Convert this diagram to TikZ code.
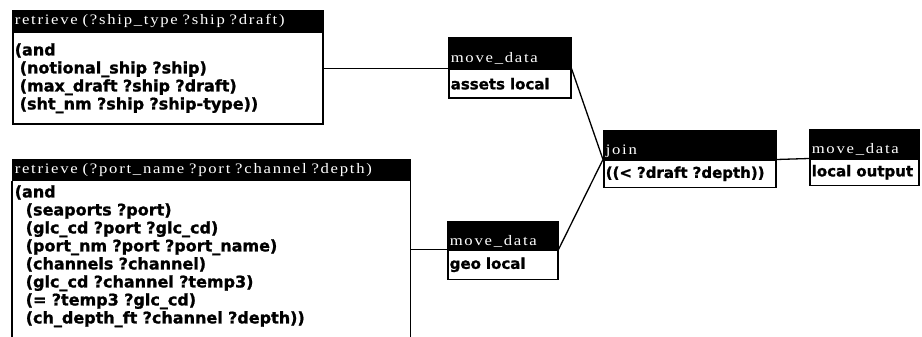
\documentclass[tikz,border=0pt]{standalone}
\usepackage{fontspec}
\newfontfamily\bodyfont{DejaVu Sans}[FakeBold=1.2]
\newfontfamily\titlefont{Liberation Serif}[FakeStretch=1.15,LetterSpace=12,WordSpace=2.2]
\begin{document}
\begin{tikzpicture}[x=1pt,y=-1pt,
  box/.style={draw=black, line width=1.5pt, anchor=north west, inner xsep=2pt, inner ysep=0pt, align=left},
  tbar/.style={box, fill=black, text=white, font=\titlefont\fontsize{14.5}{16}\selectfont},
  tbig/.style={tbar, text height=10pt, text depth=3pt},
  tsmall/.style={tbar, text height=21pt, text depth=1pt},
  bbody/.style={box, fill=white, font=\bodyfont\bfseries\fontsize{16}{18}\selectfont},
  sbody/.style={bbody, font=\bodyfont\bfseries\fontsize{15}{18}\selectfont},
  conn/.style={draw=black, line width=1.3pt}]
\useasboundingbox (0,0) rectangle (922,337);
\fill[white] (0,0) rectangle (922,337);
\clip (0,0) rectangle (922,337);
% box 1
\node[tbig, minimum height=20, text width=306] (t1) at (12,10) {retrieve (?ship\_type ?ship ?draft)};
\node[bbody, minimum height=92, text width=306] (b1) at (t1.south west)
  {(and\\\hspace*{5pt}(notional\_ship ?ship)\\\hspace*{5pt}(max\_draft ?ship ?draft)\\\hspace*{5pt}(sht\_nm ?ship ?ship-type))};
% box 2
\node[tbig, minimum height=20, text width=393] (t2) at (12,159) {retrieve (?port\_name ?port ?channel ?depth)};
\node[bbody, draw=none, fill=none, inner ysep=4pt, text width=393] (b2) at (t2.south west)
  {(and\\\hspace*{11pt}(seaports ?port)\\\hspace*{11pt}(glc\_cd ?port ?glc\_cd)\\\hspace*{11pt}(port\_nm ?port ?port\_name)\\\hspace*{11pt}(channels ?channel)\\\hspace*{11pt}(glc\_cd ?channel ?temp3)\\\hspace*{11pt}(= ?temp3 ?glc\_cd)\\\hspace*{11pt}(ch\_depth\_ft ?channel ?depth))};
\draw[line width=1.5pt] (t2.south west) -- ++(0,200);
\draw[line width=1.5pt] (t2.south east) -- ++(0,200);
% move 1
\node[tsmall, minimum height=30, text width=118] (m1t) at (448,37) {\mbox{move\_data}};
\node[sbody, minimum height=29, text width=118] (m1b) at (m1t.south west) {\mbox{assets local}};
% move 2
\node[tsmall, minimum height=27, text width=106] (m2t) at (447,221) {\mbox{move\_data}};
\node[sbody, minimum height=29, text width=106] (m2b) at (m2t.south west) {\mbox{geo local}};
% join
\node[tsmall, minimum height=28, text width=168] (jt) at (603,130) {\mbox{join}};
\node[sbody, minimum height=27, text width=168] (jb) at (jt.south west) {\mbox{((< ?draft ?depth))}};
% move 3
\node[tsmall, minimum height=28, text width=105] (m3t) at (809,129) {\mbox{move\_data}};
\node[sbody, minimum height=26, text width=105] (m3b) at (m3t.south west) {\mbox{local output}};
% connectors
\draw[conn] (m1t.south west) -- (m1t.south west -| b1.east);
\draw[conn] (m2t.south west) -- (m2t.south west -| t2.south east);
\draw[conn] (m1t.south east) -- (jt.south west);
\draw[conn] (m2t.south east) -- (jt.south west);
\draw[conn] (jt.south east) -- (m3t.south west);
\end{tikzpicture}
\end{document}
